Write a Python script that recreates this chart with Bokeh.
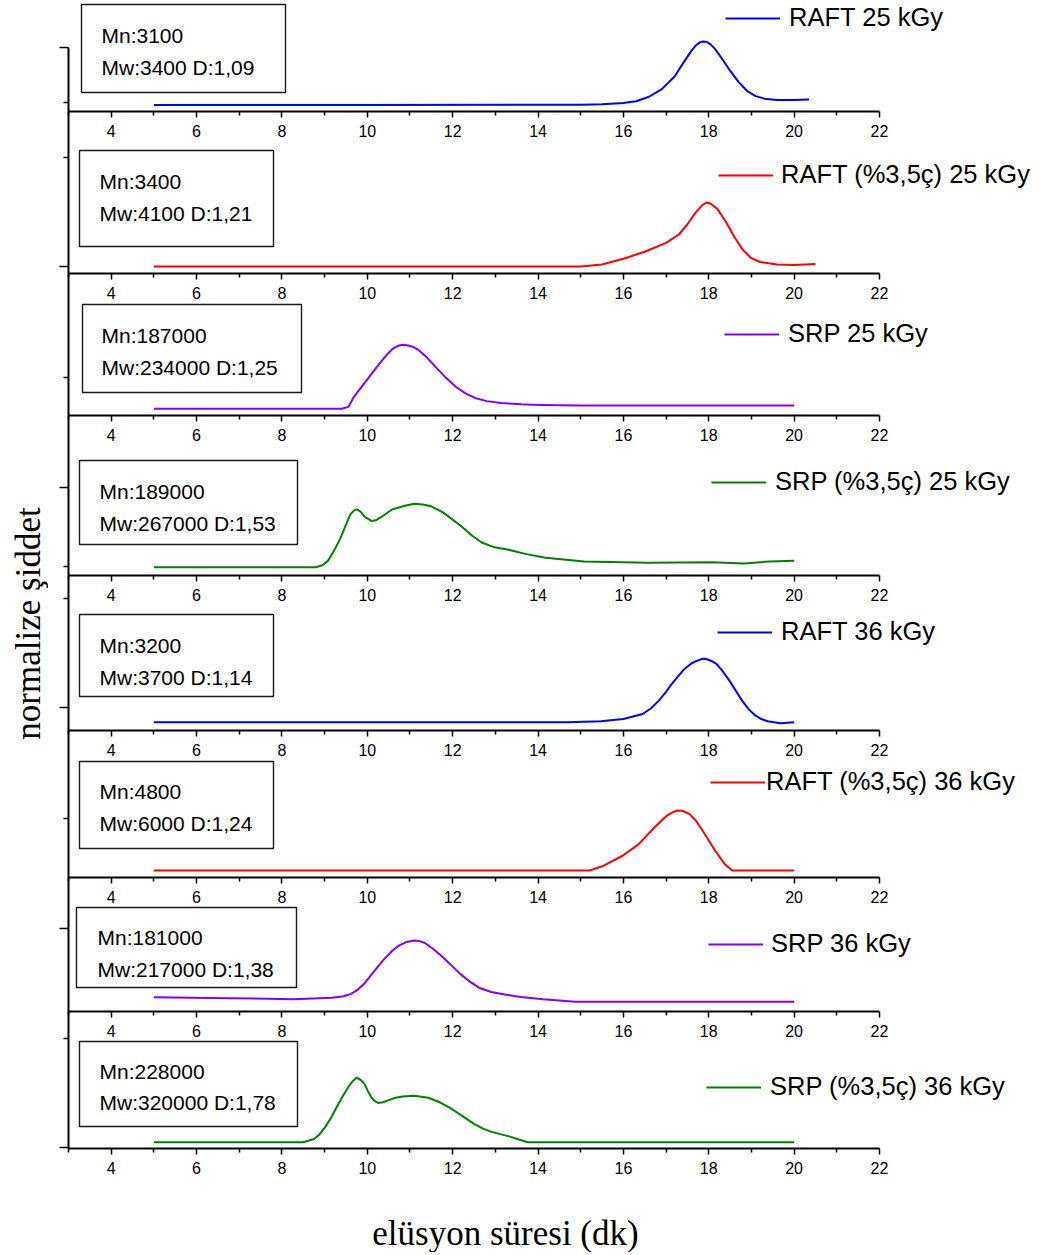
import math
from bokeh.plotting import figure
from bokeh.layouts import column, row
from bokeh.models import (Range1d, FixedTicker, CustomJSTickFormatter, BoxAnnotation,
                          Label, Legend, LegendItem)
from bokeh.embed import file_html
from bokeh.resources import INLINE

# ---------------- data ----------------
series_names = ["RAFT 25 kGy", "RAFT (%3,5ç) 25 kGy", "SRP 25 kGy", "SRP (%3,5ç) 25 kGy",
                "RAFT 36 kGy", "RAFT (%3,5ç) 36 kGy", "SRP 36 kGy", "SRP (%3,5ç) 36 kGy"]
mn_values = [3100, 3400, 187000, 189000, 3200, 4800, 181000, 228000]
mw_values = [3400, 4100, 234000, 267000, 3700, 6000, 217000, 320000]
d_values = ["1,09", "1,21", "1,25", "1,53", "1,14", "1,24", "1,38", "1,78"]

x_ticks = [4, 6, 8, 10, 12, 14, 16, 18, 20, 22]
x_minor_ticks = [3, 5, 7, 9, 11, 13, 15, 17, 19, 21]

# elution time (min) / normalized intensity
x_raft25 = [5.0, 10.0, 15.0, 15.5, 16.0, 16.3, 16.6, 16.9, 17.2, 17.4, 17.6, 17.7, 17.8,
            17.88, 17.96, 18.05, 18.15, 18.3, 18.5, 18.7, 18.9, 19.1, 19.3, 19.6, 20.0, 20.35]
y_raft25 = [0.0, 0.0, 0.005, 0.01, 0.03, 0.06, 0.13, 0.25, 0.45, 0.66, 0.86, 0.94, 0.99,
            1.0, 0.99, 0.95, 0.88, 0.74, 0.54, 0.36, 0.22, 0.14, 0.10, 0.08, 0.08, 0.085]

x_raftc25 = [5.0, 10.0, 15.0, 15.5, 16.0, 16.5, 17.0, 17.3, 17.5, 17.7, 17.85, 17.95, 18.05,
             18.2, 18.4, 18.6, 18.8, 19.0, 19.2, 19.6, 20.0, 20.5]
y_raftc25 = [0.0, 0.0, 0.0, 0.03, 0.12, 0.23, 0.37, 0.5, 0.66, 0.85, 0.96, 1.0, 0.98,
             0.9, 0.7, 0.46, 0.26, 0.13, 0.07, 0.03, 0.025, 0.04]

x_srp25 = [5.0, 9.4, 9.56, 9.68, 9.83, 9.98, 10.14, 10.29, 10.45, 10.6, 10.72, 10.84, 10.96,
           11.08, 11.2, 11.4, 11.62, 11.85, 12.08, 12.3, 12.52, 12.8, 13.13, 13.6, 14.04,
           15.0, 20.0]
y_srp25 = [0.0, 0.0, 0.03, 0.18, 0.31, 0.44, 0.58, 0.71, 0.84, 0.94, 0.985, 1.0, 0.99,
           0.965, 0.92, 0.8, 0.64, 0.48, 0.34, 0.24, 0.17, 0.12, 0.09, 0.07, 0.06,
           0.05, 0.05]

x_srpc25 = [5.0, 8.79, 8.95, 9.08, 9.23, 9.38, 9.5, 9.61, 9.7, 9.77, 9.85, 9.95, 10.1, 10.2,
            10.35, 10.58, 10.88, 11.1, 11.3, 11.5, 11.78, 12.0, 12.23, 12.45, 12.68, 12.95,
            13.28, 13.7, 14.18, 15.08, 16.58, 18.07, 18.82, 19.42, 20.0]
y_srpc25 = [0.0, 0.0, 0.03, 0.10, 0.27, 0.47, 0.67, 0.84, 0.9, 0.91, 0.87, 0.79, 0.73, 0.74,
            0.8, 0.91, 0.97, 1.0, 0.99, 0.96, 0.86, 0.75, 0.63, 0.5, 0.39, 0.32,
            0.28, 0.21, 0.15, 0.09, 0.07, 0.08, 0.06, 0.09, 0.10]

x_raft36 = [5.0, 14.7, 15.47, 16.0, 16.45, 16.65, 16.83, 17.0, 17.13, 17.3, 17.43, 17.6,
            17.73, 17.83, 17.92, 18.05, 18.18, 18.33, 18.48, 18.63, 18.78, 18.93, 19.08,
            19.23, 19.38, 19.68, 20.0]
y_raft36 = [0.0, 0.0, 0.016, 0.05, 0.13, 0.22, 0.34, 0.48, 0.6, 0.74, 0.84, 0.93,
            0.97, 0.995, 1.0, 0.97, 0.92, 0.8, 0.66, 0.5, 0.34, 0.21, 0.11,
            0.05, 0.016, -0.016, 0.0]

x_raftc36 = [5.0, 15.21, 15.54, 15.99, 16.36, 16.73, 17.03, 17.15, 17.28, 17.4, 17.55, 17.7,
             17.85, 18.0, 18.15, 18.37, 18.55, 20.0]
y_raftc36 = [0.0, 0.0, 0.08, 0.25, 0.44, 0.72, 0.92, 0.97, 1.0, 0.99, 0.94, 0.83,
             0.67, 0.5, 0.33, 0.11, 0.0, 0.0]

x_srp36 = [5.0, 6.77, 8.27, 9.17, 9.45, 9.62, 9.78, 9.92, 10.07, 10.22, 10.4, 10.6, 10.75,
           10.9, 11.1, 11.22, 11.35, 11.53, 11.72, 11.95, 12.17, 12.4, 12.62, 12.9, 13.22,
           13.6, 14.12, 14.87, 20.0]
y_srp36 = [0.075, 0.059, 0.042, 0.065, 0.09, 0.13, 0.2, 0.29, 0.42, 0.55, 0.7, 0.84, 0.92,
           0.97, 1.0, 0.99, 0.96, 0.87, 0.76, 0.61, 0.46, 0.33, 0.23, 0.16, 0.12,
           0.08, 0.04, 0.0, 0.0]

x_srpc36 = [5.0, 8.5, 8.75, 8.88, 9.01, 9.15, 9.28, 9.42, 9.55, 9.66, 9.75, 9.84, 9.93,
            10.01, 10.09, 10.17, 10.25, 10.37, 10.49, 10.66, 10.83, 11.1, 11.43, 11.7,
            11.97, 12.24, 12.51, 12.71, 12.91, 13.32, 13.76, 20.0]
y_srpc36 = [0.0, 0.0, 0.05, 0.12, 0.23, 0.38, 0.54, 0.71, 0.85, 0.95, 1.0, 0.97, 0.91,
            0.8, 0.7, 0.64, 0.61, 0.62, 0.65, 0.69, 0.71, 0.72, 0.69, 0.62,
            0.52, 0.4, 0.28, 0.21, 0.16, 0.09, 0.0, 0.0]

series_x = [x_raft25, x_raftc25, x_srp25, x_srpc25, x_raft36, x_raftc36, x_srp36, x_srpc36]
series_y = [y_raft25, y_raftc25, y_srp25, y_srpc25, y_raft36, y_raftc36, y_srp36, y_srpc36]

x_label = "elüsyon süresi (dk)"
y_label = "normalize şiddet"

# ---------------- style / layout (page pixels) ----------------
colors = ["#0000ff", "#ff0000", "#8000ff", "#008000", "#0000ff", "#ff0000", "#8000ff", "#008000"]
FONT = "Liberation Sans"
SERIF = "Liberation Serif"
X_START, X_AXIS_END = 3, 22
LEFT_W = 48
MB_LEFT = 20
FRAME_LEFT_PX = LEFT_W + MB_LEFT          # 68
AXIS_RIGHT_PX = 879
FRAME_RIGHT_PX = 1035
XSCALE = (AXIS_RIGHT_PX - FRAME_LEFT_PX) / (X_AXIS_END - X_START)
FRAME_W = FRAME_RIGHT_PX - FRAME_LEFT_PX
X_END = X_START + FRAME_W / XSCALE
MB_BOTTOM = 40
XLAB_H = 64
LEGEND_FONT = "25.5px"

frame_top = [0, 111, 273, 415, 575, 730, 877, 1011]
frame_bot = [111, 273, 415, 575, 730, 877, 1011, 1148]
base_px = [104.5, 266, 408.3, 566.7, 721.7, 870, 1001.3, 1141.7]
peak_px = [41, 202, 344.3, 503.3, 658.3, 810, 940, 1077.3]
spine_top_px = [46.5, None, None, None, None, None, None, None]
# box: left, top, right, bottom, text x, line1 y, line2 y
boxes = [(81, 4, 285, 92, 101, 35, 67),
         (79, 150, 273, 246, 99, 181, 213),
         (82, 304, 301, 392, 101, 335, 367),
         (79, 460, 297, 544, 99, 491, 523),
         (79, 614, 273, 696, 99, 645, 677),
         (79, 761, 273, 848, 99, 791, 823),
         (76, 907, 296, 987, 97, 937, 969),
         (79, 1041, 297, 1126, 99, 1071, 1102)]
# legend: line start x, center y, standoff
legend_pos = [(725, 18, 9), (718, 175, 8), (724, 334, 9), (711, 482, 9),
              (717, 632, 9), (710, 782, 1), (708, 944, 8), (706, 1087, 9)]
ytick_major_px = [[46.5], [266], [], [487], [707], [], [927.6], [1147]]
ytick_minor_px = [[101.8], [157], [377], [566], [598], [818], [], [1038]]


def px2x(v):
    return X_START + (v - FRAME_LEFT_PX) / XSCALE


figs = []
for k in range(8):
    F, A, b, pk = frame_top[k], frame_bot[k], base_px[k], peak_px[k]
    unit = b - pk

    def py2y(v, b=b, unit=unit):
        return (b - v) / unit

    p = figure(frame_width=FRAME_W, frame_height=int(A - F),
               x_range=Range1d(X_START, X_END), y_range=Range1d(py2y(A), py2y(F)),
               min_border_left=MB_LEFT, min_border_right=0,
               min_border_top=0, min_border_bottom=MB_BOTTOM,
               toolbar_location=None, output_backend="svg",
               background_fill_color=None, border_fill_color=None, outline_line_color=None)
    if k > 0:
        p.margin = (-MB_BOTTOM, 0, 0, 0)
    p.xgrid.visible = False
    p.ygrid.visible = False

    xa = p.xaxis[0]
    xa.ticker = FixedTicker(ticks=x_ticks, minor_ticks=x_minor_ticks)
    xa.bounds = (X_START, X_AXIS_END)
    xa.axis_line_width = 2
    xa.axis_line_color = "black"
    xa.major_tick_line_width = 1.5
    xa.minor_tick_line_width = 1.5
    xa.major_tick_out = 6
    xa.major_tick_in = 0
    xa.minor_tick_out = 4
    xa.minor_tick_in = 0
    xa.major_label_text_font = FONT
    xa.major_label_text_font_size = "16px"
    xa.major_label_text_color = "black"
    xa.major_label_standoff = 7

    ya = p.yaxis[0]
    ya.ticker = FixedTicker(ticks=[py2y(v) for v in ytick_major_px[k]],
                            minor_ticks=[py2y(v) for v in ytick_minor_px[k]])
    ya.formatter = CustomJSTickFormatter(code="return ''")
    if spine_top_px[k] is not None:
        ya.bounds = (py2y(A), py2y(spine_top_px[k]))
    ya.axis_line_width = 2
    ya.axis_line_color = "black"
    ya.major_tick_line_width = 1.5
    ya.minor_tick_line_width = 1.5
    ya.major_tick_out = 9
    ya.major_tick_in = 0
    ya.minor_tick_out = 5
    ya.minor_tick_in = 0

    r = p.line(x=series_x[k], y=series_y[k], line_color=colors[k], line_width=2,
               line_join="round")

    bl, bt, br, bb, tx, ty1, ty2 = boxes[k]
    p.add_layout(BoxAnnotation(left=px2x(bl), right=px2x(br), top=py2y(bt), bottom=py2y(bb),
                               fill_color=None, fill_alpha=0, line_color="#1a1a1a",
                               line_alpha=1.0, line_width=1.4))
    p.add_layout(Label(x=px2x(tx), y=py2y(ty1), text=f"Mn:{mn_values[k]}",
                       text_font=FONT, text_font_size="21px", text_color="black",
                       text_baseline="middle", text_align="left"))
    p.add_layout(Label(x=px2x(tx), y=py2y(ty2), text=f"Mw:{mw_values[k]} D:{d_values[k]}",
                       text_font=FONT, text_font_size="21px", text_color="black",
                       text_baseline="middle", text_align="left"))

    lx, ly, lso = legend_pos[k]
    leg = Legend(items=[LegendItem(label=series_names[k], renderers=[r])],
                 location=(lx - FRAME_LEFT_PX, (A - ly) - 14),
                 glyph_width=55, glyph_height=28, label_height=28, label_standoff=lso,
                 padding=0, margin=0, spacing=0, border_line_color=None,
                 background_fill_color=None, label_text_font=FONT,
                 label_text_font_size=LEGEND_FONT, label_text_color="black")
    p.add_layout(leg)
    figs.append(p)

col_bottom = frame_bot[-1] + MB_BOTTOM
col_h = col_bottom + XLAB_H

xl = figure(frame_width=FRAME_W, frame_height=XLAB_H,
            x_range=Range1d(X_START, X_END), y_range=Range1d(0, XLAB_H),
            min_border_left=MB_LEFT, min_border_right=0, min_border_top=0, min_border_bottom=0,
            x_axis_location=None, y_axis_location=None,
            toolbar_location=None, output_backend="svg",
            background_fill_color=None, border_fill_color=None, outline_line_color=None)
xl.grid.visible = False
xl.add_layout(Label(x=px2x(505), y=XLAB_H - (1233 - col_bottom),
                    text=x_label, text_font=SERIF, text_font_size="35px", text_color="black",
                    text_align="center", text_baseline="middle"))

yl = figure(width=LEFT_W, height=col_h, x_range=Range1d(0, LEFT_W), y_range=Range1d(0, col_h),
            min_border=0, x_axis_location=None, y_axis_location=None,
            toolbar_location=None, output_backend="svg",
            background_fill_color=None, border_fill_color=None, outline_line_color=None)
yl.grid.visible = False
yl.add_layout(Label(x=28, y=col_h - 623, text=y_label,
                    angle=math.pi / 2, text_font=SERIF, text_font_size="35px",
                    text_color="black", text_align="center", text_baseline="middle"))

layout = row(yl, column(*figs, xl))
open("out.html", "w").write(file_html(layout, INLINE))
